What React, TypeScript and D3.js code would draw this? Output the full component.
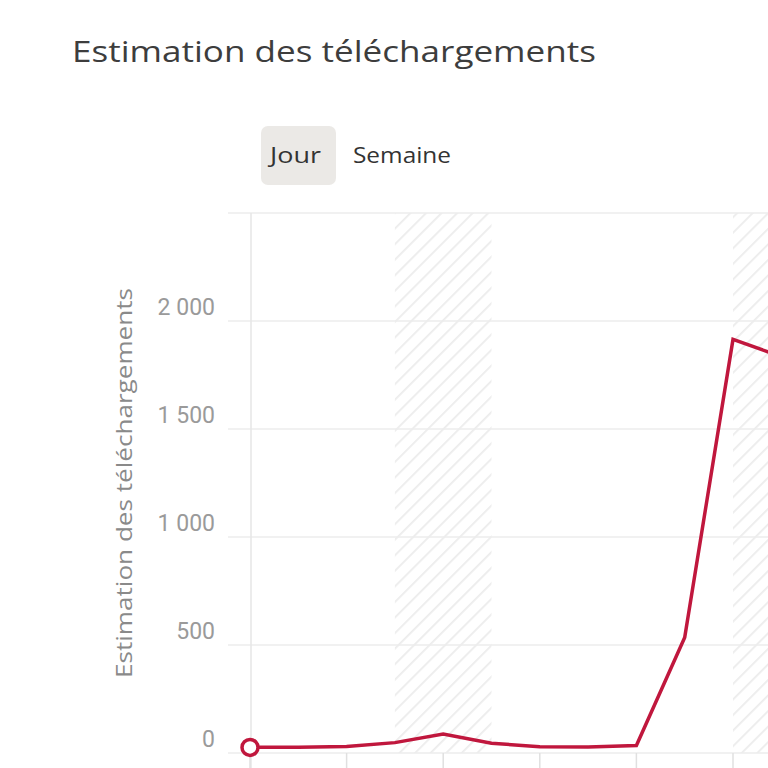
import React from "react";
import * as d3 from "d3";

// ---- data ----
const dayIndex = [0, 1, 2, 3, 4, 5, 6, 7, 8, 9, 10, 11];
const downloads = [26, 27, 30, 48, 88, 45, 29, 28, 35, 535, 1915, 1835];
const weekendStartDays = [3, 10];
const weekendLength = 2;
const xTickDays = [0, 2, 4, 6, 8, 10, 12];
const yTickValues = [0, 500, 1000, 1500, 2000, 2500];
const yLabelValues = [0, 500, 1000, 1500, 2000];
const titleText = "Estimation des téléchargements";
const yAxisTitle = "Estimation des téléchargements";
const periodButtons = ["Jour", "Semaine"];

const W = 768;
const H = 768;
const LINE_COLOR = "#c0173d";
const UI_FONT = "'Open Sans', Lato, sans-serif";

const frLocale = d3.formatLocale({
  decimal: ",",
  thousands: "\u00a0",
  grouping: [3],
  currency: ["", " €"],
});
const fmt = frLocale.format(",d");

export default function App() {
  const x = d3.scaleLinear().domain([0, 10]).range([250, 733]);
  const y = d3.scaleLinear().domain([0, 2500]).range([753, 213]);
  const line = d3
    .line<number>()
    .x((_, i) => x(dayIndex[i]))
    .y((d) => y(d))
    .curve(d3.curveLinear);

  const plotTop = y(2500);
  const plotBottom = y(0);
  const axisX = x(0);

  return (
    <div style={{ position: "fixed", left: 0, top: 0, width: W, height: H, background: "#fff" }}>
      <svg width={W} height={H} style={{ display: "block" }}>
        <defs>
          <pattern
            id="hatch"
            patternUnits="userSpaceOnUse"
            width={11}
            height={11}
            patternTransform="rotate(45)"
          >
            <rect width={11} height={11} fill="#fff" />
            <line x1={0} y1={0} x2={0} y2={11} stroke="#ececec" strokeWidth={3.5} />
          </pattern>
        </defs>
        <rect width={W} height={H} fill="#fff" />

        {/* title */}
        <text
          x={72}
          y={62}
          fontFamily={UI_FONT}
          fontSize={30}
          fill="#3d3d3d"
          textLength={524}
          lengthAdjust="spacingAndGlyphs"
        >
          {titleText}
        </text>

        {/* period buttons */}
        <rect x={261} y={126} width={75} height={59} rx={7} fill="#ebe9e6" />
        <text x={270} y={163} fontFamily={UI_FONT} fontSize={21} fill="#333" textLength={51} lengthAdjust="spacingAndGlyphs">
          {periodButtons[0]}
        </text>
        <text x={353} y={163} fontFamily={UI_FONT} fontSize={21} fill="#333" textLength={98} lengthAdjust="spacingAndGlyphs">
          {periodButtons[1]}
        </text>

        {/* weekend hatches */}
        {weekendStartDays.map((d) => (
          <rect
            key={d}
            x={x(d)}
            y={plotTop}
            width={x(d + weekendLength) - x(d)}
            height={plotBottom - plotTop}
            fill="url(#hatch)"
          />
        ))}

        {/* horizontal gridlines + left ticks */}
        {yTickValues.map((v) => (
          <line key={v} x1={228} x2={W} y1={y(v)} y2={y(v)} stroke="#ececec" strokeWidth={1.5} />
        ))}

        {/* y axis line */}
        <line x1={axisX + 1} x2={axisX + 1} y1={plotTop} y2={H} stroke="#e6e6e6" strokeWidth={1.5} />

        {/* x ticks */}
        {xTickDays.map((d) => (
          <line key={d} x1={x(d)} x2={x(d)} y1={plotBottom} y2={H} stroke="#e0e0e0" strokeWidth={1.5} />
        ))}

        {/* y tick labels */}
        {yLabelValues.map((v) => (
          <text
            key={v}
            x={215}
            y={y(v) - 6}
            textAnchor="end"
            fontFamily="Roboto, 'Open Sans', sans-serif"
            fontSize={23}
            fill="#9a9a9a"
          >
            {fmt(v)}
          </text>
        ))}

        {/* y axis title */}
        <text
          transform={`translate(132, 678) rotate(-90)`}
          fontFamily={UI_FONT}
          fontSize={21}
          fill="#8a8a8a"
          textLength={390}
          lengthAdjust="spacingAndGlyphs"
        >
          {yAxisTitle}
        </text>

        {/* data line */}
        <path d={line(downloads) || ""} fill="none" stroke={LINE_COLOR} strokeWidth={3.5} strokeLinejoin="miter" />
        <circle cx={x(dayIndex[0])} cy={y(downloads[0])} r={8} fill="#fff" stroke={LINE_COLOR} strokeWidth={3.5} />
      </svg>
    </div>
  );
}
